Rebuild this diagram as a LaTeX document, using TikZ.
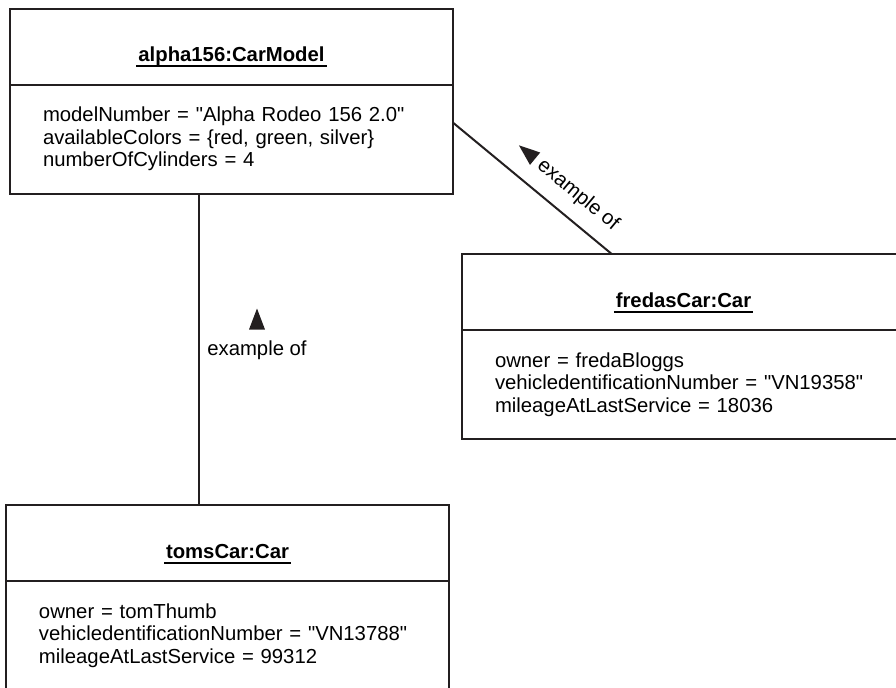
\documentclass[tikz,border=0pt]{standalone}
\usepackage{fontspec}
\setmainfont{Liberation Sans}
\usetikzlibrary{positioning,calc}
\definecolor{LineBlack}{RGB}{35,31,32}
\newcommand{\umlfont}{\fontsize{10.15pt}{11.25pt}\selectfont}
\newcommand{\objname}[1]{\setbox0\hbox{\bfseries #1}%
  \rlap{\hspace{-1pt}\rule[-2.9pt]{\dimexpr\wd0+2pt\relax}{1pt}}\box0}
\newcommand{\strq}{\textquotedbl}
\tikzset{
  headbox/.style={draw=LineBlack,line width=1pt,outer sep=0pt,anchor=north west,
    minimum width=221.5pt,minimum height=38pt,text height=17.9pt,text depth=2.9pt,
    font=\umlfont},
  attrbox/.style={draw=LineBlack,line width=1pt,outer sep=0pt,
    minimum width=221.5pt,minimum height=54.5pt,text width=188.5pt,inner xsep=16.5pt,
    align=left,font=\umlfont},
  link/.style={draw=LineBlack,line width=1pt},
  dirmark/.style={fill=LineBlack},
  linklabel/.style={font=\umlfont,inner sep=1pt},
}

\begin{document}
\begin{tikzpicture}[x=0.5pt,y=-0.5pt]
  \useasboundingbox (0,0) rectangle (896,687);
  \clip (0,0) rectangle (896,687);
  % objects
  \node[headbox] (alphaHead) at (10,8.5) {\objname{alpha156:CarModel}};
  \node[attrbox,below=0pt of alphaHead] (alphaAttr) {modelNumber = \strq Alpha Rodeo 156 2.0\strq\\
    availableColors = \{red, green, silver\}\\numberOfCylinders = 4};
  \node[headbox] (fredasHead) at (462,254) {\objname{fredasCar:Car}};
  \node[attrbox,below=0pt of fredasHead] (fredasAttr) {owner = fredaBloggs\\
    vehicledentificationNumber = \strq VN19358\strq\\mileageAtLastService = 18036};
  \node[headbox] (tomsHead) at (6,505) {\objname{tomsCar:Car}};
  \node[attrbox,below=0pt of tomsHead] (tomsAttr) {owner = tomThumb\\
    vehicledentificationNumber = \strq VN13788\strq\\mileageAtLastService = 99312};
  % links
  \draw[link] ([xshift=94.5pt]alphaAttr.south west) -- ([xshift=94.5pt]alphaAttr.south west |- tomsHead.north);
  \draw[link] ($(alphaAttr.north east)!0.35!(alphaAttr.south east)$) -- ($(fredasHead.north west)!0.338!(fredasHead.north east)$);
  % direction marks and labels
  \fill[dirmark] (257,308.5) -- (265,329.5) -- (249,329.5) -- cycle;
  \node[linklabel,anchor=base] (tomsLabel) at (257,355) {example of};
  \fill[dirmark] (518.9,145.3) -- (540.2,152.5) -- (530.0,164.9) -- cycle;
  \node[linklabel,rotate=-39.7] (fredasLabel) at (578,195) {example of};
\end{tikzpicture}
\end{document}
